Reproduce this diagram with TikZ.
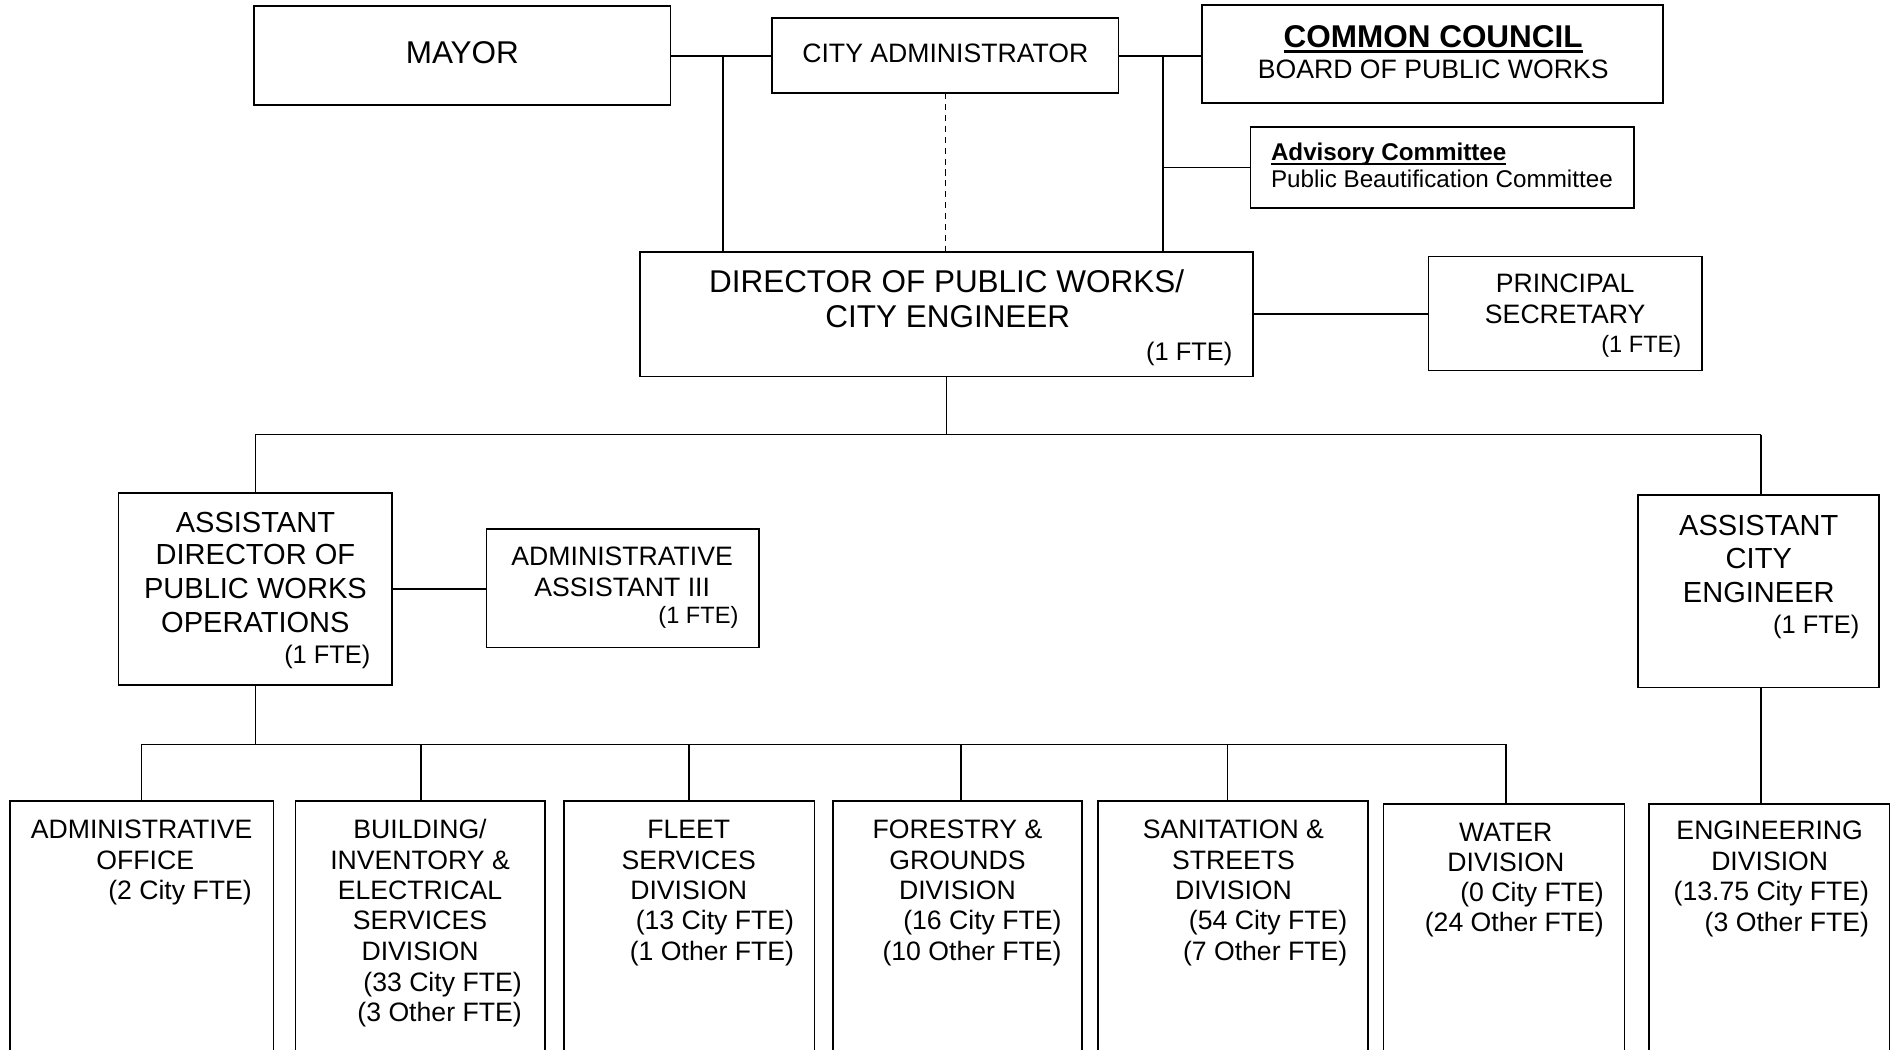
\documentclass[tikz,border=0pt]{standalone}
\usepackage{fontspec}
\setmainfont{Liberation Sans}
\newcommand\fsz[1]{\fontsize{#1pt}{1.15\dimexpr#1pt\relax}\selectfont}
\newcommand\bx[5]{\node[box, minimum width={#4pt-#2pt}, minimum height={#5pt-#3pt}] (#1) at ({(#2+#4)/2},{-(#3+#5)/2}) {};}
\newcommand\tc[5]{\node[txt, anchor=base, #4] (#1) at (#2,-#3) {#5};}
\newcommand\tr[5]{\node[txt, anchor=base east, #4] (#1) at (#2,-#3) {#5};}
\newcommand\tlft[5]{\node[txt, anchor=base west, #4] (#1) at (#2,-#3) {#5};}
\tikzset{
  box/.style={draw, line width=1.4pt, inner sep=0pt, outer sep=0pt},
  ln/.style={line width=1.4pt},
  dsh/.style={line width=1.4pt, dash pattern=on 5pt off 4pt},
  txt/.style={inner sep=0pt, outer sep=0pt},
  fA/.style={font=\fsz{26}},
  fB/.style={font=\fsz{24}},
  fC/.style={font=\fsz{22}},
  fD/.style={font=\fsz{21}},
  fE/.style={font=\fsz{19.5}},
  fF/.style={font=\fsz{20}},
  fAb/.style={font=\fsz{26}\bfseries},
  fFb/.style={font=\fsz{20}\bfseries},
}
\begin{document}
\begin{tikzpicture}[x=1pt,y=1pt]
\useasboundingbox (0,0) rectangle (1568,-867.4);
% boxes
\bx{mayor}{210}{5}{554}{87}
\bx{admin}{638}{15}{924}{77}
\bx{council}{993}{4}{1374}{85}
\bx{advis}{1033}{105}{1350}{172}
\bx{dir}{529}{208}{1035}{311}
\bx{psec}{1180}{212}{1406}{306}
\bx{adir}{98}{407}{324}{566}
\bx{aa3}{402}{437}{627}{535}
\bx{ace}{1353}{409}{1552}{568}
\bx{ao}{8}{662}{226}{900}
\bx{bld}{244}{662}{450}{900}
\bx{flt}{466}{662}{673}{900}
\bx{frs}{688}{662}{894}{900}
\bx{san}{907}{662}{1130}{900}
\bx{wat}{1143}{664}{1342}{900}
\bx{eng}{1362}{664}{1561}{900}
% texts
\tc{tmayor}{382}{52.3}{fA}{MAYOR}
\tc{tadmin}{781}{51.9}{fC}{CITY ADMINISTRATOR}
\tc{tcc}{1184}{39.3}{fAb}{COMMON COUNCIL}
\tc{tbpw}{1184}{64.9}{fC}{BOARD OF PUBLIC WORKS}
\tlft{tadv}{1050}{132.2}{fFb}{Advisory Committee}
\tlft{tpbc}{1050}{155.2}{fF}{Public Beautification Committee}
\tc{td1}{782}{241.3}{fA}{DIRECTOR OF PUBLIC WORKS/}
\tc{td2}{783}{270.3}{fA}{CITY ENGINEER}
\tr{td3}{1018}{297.5}{fD}{(1 FTE)}
\tc{tp1}{1293}{241.9}{fC}{PRINCIPAL}
\tc{tp2}{1293}{266.9}{fC}{SECRETARY}
\tr{tp3}{1389}{291}{fE}{(1 FTE)}
\tc{ta1}{211}{439.6}{fB}{ASSISTANT}
\tc{ta2}{211}{466.6}{fB}{DIRECTOR OF}
\tc{ta3}{211}{494.6}{fB}{PUBLIC WORKS}
\tc{ta4}{211}{522.6}{fB}{OPERATIONS}
\tr{ta5}{306}{548.5}{fD}{(1 FTE)}
\tc{tb1}{514}{466.9}{fC}{ADMINISTRATIVE}
\tc{tb2}{514}{492.9}{fC}{ASSISTANT III}
\tr{tb3}{610}{515}{fE}{(1 FTE)}
\tc{tc1}{1453}{442.6}{fB}{ASSISTANT}
\tc{tc2}{1453}{469.6}{fB}{CITY}
\tc{tc3}{1453}{497.6}{fB}{ENGINEER}
\tr{tc4}{1536}{523.5}{fD}{(1 FTE)}
% lower boxes
\tc{o1}{117}{692.9}{fC}{ADMINISTRATIVE}
\tc{o2}{120}{717.9}{fC}{OFFICE}
\tr{o3}{208}{742.9}{fC}{(2 City FTE)}
\tc{b1t}{347}{692.9}{fC}{BUILDING/}
\tc{b2t}{347}{717.9}{fC}{INVENTORY \&}
\tc{b3t}{347}{742.9}{fC}{ELECTRICAL}
\tc{b4t}{347}{767.9}{fC}{SERVICES}
\tc{b5t}{347}{793.9}{fC}{DIVISION}
\tr{b6t}{431}{818.9}{fC}{(33 City FTE)}
\tr{b7t}{431}{843.9}{fC}{(3 Other FTE)}
\tc{f1}{569}{692.9}{fC}{FLEET}
\tc{f2}{569}{717.9}{fC}{SERVICES}
\tc{f3}{569}{742.9}{fC}{DIVISION}
\tr{f4}{656}{767.9}{fC}{(13 City FTE)}
\tr{f5}{656}{793.9}{fC}{(1 Other FTE)}
\tc{g1}{791}{692.9}{fC}{FORESTRY \&}
\tc{g2}{791}{717.9}{fC}{GROUNDS}
\tc{g3}{791}{742.9}{fC}{DIVISION}
\tr{g4}{877}{767.9}{fC}{(16 City FTE)}
\tr{g5}{877}{793.9}{fC}{(10 Other FTE)}
\tc{s1}{1019}{692.9}{fC}{SANITATION \&}
\tc{s2}{1019}{717.9}{fC}{STREETS}
\tc{s3}{1019}{742.9}{fC}{DIVISION}
\tr{s4}{1113}{767.9}{fC}{(54 City FTE)}
\tr{s5}{1113}{793.9}{fC}{(7 Other FTE)}
\tc{w1}{1244}{694.9}{fC}{WATER}
\tc{w2}{1244}{719.9}{fC}{DIVISION}
\tr{w3}{1325}{744.9}{fC}{(0 City FTE)}
\tr{w4}{1325}{769.9}{fC}{(24 Other FTE)}
\tc{e1}{1462}{693.9}{fC}{ENGINEERING}
\tc{e2}{1462}{718.9}{fC}{DIVISION}
\tr{e3}{1544}{743.9}{fC}{(13.75 City FTE)}
\tr{e4}{1544}{769.9}{fC}{(3 Other FTE)}
% underlines
\draw[line width=2.2pt] ([yshift=-3.5pt]tcc.base west) -- ([yshift=-3.5pt]tcc.base east);
\draw[line width=1.8pt] ([yshift=-3pt]tadv.base west) -- ([yshift=-3pt]tadv.base east);
% connectors
\coordinate (j1) at (597,-46);
\coordinate (j2) at (961,-46);
\draw[ln] (mayor.east) -- (admin.west);
\draw[ln] (j1) -- (j1 |- dir.north);
\draw[ln] (admin.east) -- (admin.east -| council.west);
\draw[ln] (j2) -- (j2 |- dir.north);
\draw[ln] (j2 |- advis.west) -- (advis.west);
\draw[dsh] (admin.south) -- (admin.south |- dir.north);
\draw[ln] (dir.east) -- (dir.east -| psec.west);
\coordinate (bm) at (782,-359);
\coordinate (bl) at (211,-359);
\coordinate (br) at (1455,-359);
\draw[ln] (dir.south) -- (bm);
\draw[ln] (bl) -- (br);
\draw[ln] (bl) -- (adir.north);
\draw[ln] (br) -- (br |- ace.north);
\draw[ln] (adir.east) -- (adir.east -| aa3.west);
\coordinate (bus) at (211,-615);
\draw[ln] (adir.south) -- (bus);
\coordinate (d1) at (117,-615);
\coordinate (d2) at (348,-615);
\coordinate (d3) at (569,-615);
\coordinate (d4) at (794,-615);
\coordinate (d5) at (1014,-615);
\coordinate (d6) at (1244,-615);
\draw[ln] (d1) -- (d6);
\draw[ln] (d1) -- (d1 |- ao.north);
\draw[ln] (d2) -- (d2 |- bld.north);
\draw[ln] (d3) -- (d3 |- flt.north);
\draw[ln] (d4) -- (d4 |- frs.north);
\draw[ln] (d5) -- (d5 |- san.north);
\draw[ln] (d6) -- (d6 |- wat.north);
\draw[ln] (br |- ace.south) -- (br |- eng.north);
\end{tikzpicture}
\end{document}
